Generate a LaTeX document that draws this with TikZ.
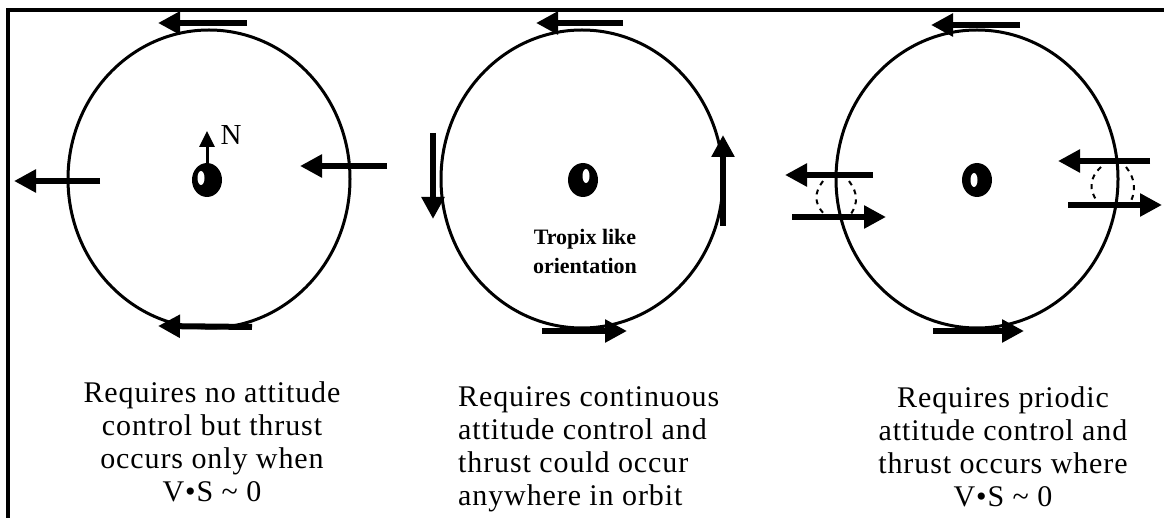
\documentclass[tikz,border=0pt]{standalone}
\usepackage{fontspec}
\setmainfont{Liberation Serif}
\newfontfamily\spaced[LetterSpace=3]{Liberation Serif}
\usepackage{tikz}
\usetikzlibrary{arrows.meta}

\begin{document}
\begin{tikzpicture}[x=1pt, y=-1pt,
    orbit/.style={line width=3pt},
    thrust/.style={line width=6pt, -{Triangle[length=22pt,width=22pt]}},
    swirl/.style={line width=2pt, dash pattern=on 5pt off 5pt},
    caption/.style={inner sep=0pt, font=\spaced\fontsize{30}{33}\selectfont}]
    \useasboundingbox (0,0) rectangle (1164,518);
    \draw[line width=4pt] (8,518) -- (8,10) -- (1164,10);
    % the three orbits
    \foreach \cx in {209,582,977}
        \draw[orbit] (\cx,179) ellipse [x radius=141, y radius=149];
    % spacecraft at the centre
    \foreach \cx/\dx/\dy in {207/-6/-2, 583/3/-4, 977/-3/0} {
        \fill (\cx,180) ellipse [x radius=15, y radius=17];
        \fill[white] (\cx+\dx,180+\dy) ellipse [x radius=3.5, y radius=7];
    }
    % left orbit
    \draw[thrust] (247,23) -- (158,23);
    \draw[thrust] (100,181) -- (14,181);
    \draw[thrust] (387,166) -- (300,166);
    \draw[thrust] (252,327) -- (158,326);
    \draw[line width=3pt, -{Triangle[length=16pt,width=15pt]}] (207,163) -- (207,131);
    \node[font=\fontsize{29}{29}\selectfont] (north) at (231,135) {N};
    % middle orbit
    \draw[thrust] (623,23) -- (536,23);
    \draw[thrust] (433,133) -- (433,219);
    \draw[thrust] (723,226) -- (723,135);
    \draw[thrust] (542,331) -- (627,331);
    \node[align=center, font=\bfseries\fontsize{22}{29}\selectfont] (tropix) at (585,251) {Tropix like\\orientation};
    % right orbit
    \draw[thrust] (1020,25) -- (931,25);
    \draw[thrust] (873,175) -- (785,175);
    \draw[thrust] (792,217) -- (886,217);
    \draw[thrust] (1150,161) -- (1058,161);
    \draw[thrust] (1068,205) -- (1162,205);
    \draw[swirl] (823,181) .. controls (814,193) and (814,203) .. (824,214);
    \draw[swirl] (849,181) .. controls (858,193) and (858,203) .. (851,214);
    \draw[swirl] (1101,167) .. controls (1089,178) and (1089,190) .. (1097,201);
    \draw[swirl] (1126,167) .. controls (1135,178) and (1136,190) .. (1131,201);
    \draw[thrust] (933,331) -- (1024,331);
    % captions
    \node[caption, align=center, anchor=north] (capA) at (212,381)
        {Requires no attitude\\control but thrust\\occurs only when\\V•S \textasciitilde\ 0};
    \node[caption, align=left, anchor=north west] (capB) at (458,386)
        {Requires continuous\\attitude control and\\thrust could occur\\anywhere in orbit};
    \node[caption, align=center, anchor=north] (capC) at (1003,386)
        {Requires priodic\\attitude control and\\thrust occurs where\\V•S \textasciitilde\ 0};
\end{tikzpicture}
\end{document}
